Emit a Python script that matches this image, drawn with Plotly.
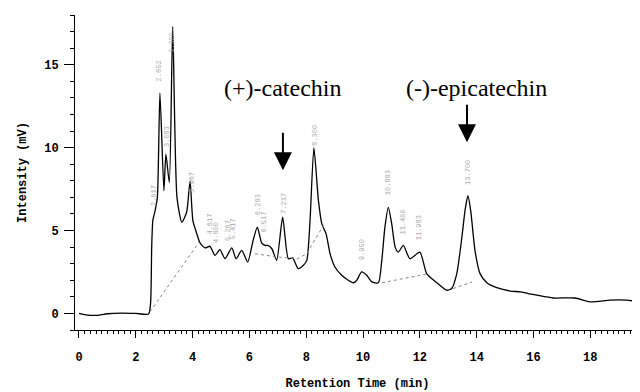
import numpy as np
import plotly.graph_objects as go

# ---- data ----
time_min = [0.00, 0.30, 0.60, 1.00, 1.50, 2.00, 2.45, 2.52, 2.56, 2.60, 2.68, 2.76, 2.85,
            2.99, 3.06, 3.18, 3.30, 3.45, 3.62, 3.79, 3.91, 4.01, 4.14, 4.26, 4.44, 4.61,
            4.79, 4.96, 5.14, 5.38, 5.53, 5.73, 5.94, 6.13, 6.28, 6.43, 6.55, 6.65, 6.79,
            6.96, 7.17, 7.37, 7.52, 7.72, 7.90, 8.02, 8.13, 8.27, 8.43, 8.55, 8.70, 8.84,
            9.01, 9.25, 9.48, 9.66, 9.78, 9.95, 10.13, 10.31, 10.54, 10.66, 10.77, 10.89,
            11.01, 11.13, 11.24, 11.42, 11.65, 12.00, 12.24, 12.60, 12.95, 13.12, 13.30,
            13.48, 13.59, 13.69, 13.79, 13.94, 14.12, 14.36, 14.71, 15.18, 15.53, 15.81,
            16.12, 16.69, 17.46, 17.99, 18.70, 19.28, 19.75]
intensity_mv = [0.00, -0.10, -0.12, -0.02, 0.02, 0.00, -0.03, 0.60, 4.00, 5.60, 6.20, 7.00, 13.30,
                7.40, 9.60, 7.90, 17.30, 7.00, 5.50, 6.10, 8.00, 5.60, 4.85, 4.25, 3.95, 4.05,
                3.50, 3.85, 3.30, 3.95, 3.30, 3.80, 3.10, 4.40, 5.20, 4.25, 4.10, 4.10, 3.90,
                3.20, 5.80, 3.30, 3.35, 2.70, 2.90, 3.20, 5.45, 10.00, 6.80, 5.40, 4.80, 3.60,
                2.80, 2.30, 2.00, 1.85, 2.00, 2.50, 2.30, 1.90, 1.85, 3.20, 5.20, 6.40,
                5.40, 4.00, 3.70, 4.10, 3.30, 3.70, 2.40, 1.85, 1.40, 1.50, 2.40,
                4.60, 6.20, 7.10, 6.20, 3.80, 2.40, 1.85, 1.55, 1.35, 1.30, 1.20,
                1.10, 0.93, 0.93, 0.70, 0.80, 0.80, 0.70]

# integration baselines (dotted)
base1_t = [2.50, 4.23]
base1_y = [0.10, 4.30]
base2_t = [6.20, 7.00, 7.70, 8.02, 8.60]
base2_y = [3.60, 3.40, 3.30, 3.60, 5.30]
base3_t = [10.67, 11.76, 12.30]
base3_y = [1.85, 2.20, 2.40]
base4_t = [13.17, 13.84]
base4_y = [1.50, 1.90]

peak_times = [2.62, 2.85, 3.08, 3.30, 3.97, 4.62, 4.80, 5.27, 5.42, 6.28, 6.52,
              7.21, 8.30, 9.95, 10.89, 11.40, 11.98, 13.70]
peak_labels = ["2.617", "2.852", "3.083", "3.300", "3.967", "4.617", "4.800", "5.267",
               "5.417", "6.283", "6.517", "7.217", "8.300", "9.950", "10.883", "11.400",
               "11.983", "13.700"]

compounds = ["(+)-catechin", "(-)-epicatechin"]
compound_times = [7.18, 13.66]

x_ticks = [0, 2, 4, 6, 8, 10, 12, 14, 16, 18]
y_ticks = [0, 5, 10, 15]

mono = "Liberation Mono, Courier New, monospace"
serif = "Liberation Serif, Times New Roman, serif"

fig = go.Figure()
fig.add_trace(go.Scatter(x=time_min, y=intensity_mv, mode="lines",
                         line=dict(color="black", width=1.3, shape="spline", smoothing=0.6),
                         hoverinfo="skip", showlegend=False))
for bt, by in [(base1_t, base1_y), (base2_t, base2_y), (base3_t, base3_y), (base4_t, base4_y)]:
    fig.add_trace(go.Scatter(x=bt, y=by, mode="lines",
                             line=dict(color="#888888", width=1, dash="dot"),
                             hoverinfo="skip", showlegend=False))

# peak retention-time labels (small, rotated, faint)
label_y = np.minimum(np.interp(peak_times, time_min, intensity_mv) + 0.6, 15.6)
for t, ly, lab in zip(peak_times, label_y, peak_labels):
    fig.add_annotation(x=t, y=float(ly), text=lab, textangle=-90, showarrow=False,
                       yanchor="bottom", xanchor="center",
                       font=dict(family=mono, size=7, color="#aaaaaa"))

# compound labels with arrows
arrow_tip_y = [8.64, 10.33]
for name, t, tip in zip(compounds, compound_times, arrow_tip_y):
    fig.add_annotation(x=t, y=tip, ax=0, ay=-39, text="", showarrow=True,
                       arrowhead=2, arrowsize=1.8, arrowwidth=2, arrowcolor="black")
    fig.add_annotation(x=t + (0.32 if name.startswith("(-)") else 0.0), y=13.58,
                       text=name, showarrow=False,
                       font=dict(family=serif, size=24, color="black"))

# the page body has an 8px default margin, so the figure is sized to fit the window
fig.update_layout(
    width=632, height=384,
    margin=dict(l=67, r=0, t=7, b=62),
    paper_bgcolor="white", plot_bgcolor="white",
    showlegend=False,
)
fig.update_xaxes(
    range=[-0.14, 19.75], tickvals=x_ticks, ticks="outside", ticklen=7, tickwidth=1,
    tickcolor="black", showline=True, linecolor="black", linewidth=1,
    showgrid=False, zeroline=False, automargin=False, ticklabelstandoff=9,
    minor=dict(dtick=0.2, tick0=0, ticks="outside", ticklen=3, tickcolor="black"),
    tickfont=dict(family=mono, size=12, color="black", weight="bold"),
    title=dict(text="Retention Time (min)", standoff=14,
               font=dict(family=mono, size=12, color="black", weight="bold")),
)
fig.update_yaxes(
    range=[-1.0, 18.0], tickvals=y_ticks, ticks="outside", ticklen=10, tickwidth=1,
    tickcolor="black", showline=True, linecolor="black", linewidth=1,
    showgrid=False, zeroline=False, automargin=False, ticklabelstandoff=3,
    minor=dict(dtick=1, tick0=0, ticks="outside", ticklen=4, tickcolor="black"),
    tickfont=dict(family=mono, size=12, color="black", weight="bold"),
    title=dict(text="Intensity (mV)", standoff=14,
               font=dict(family=mono, size=12, color="black", weight="bold")),
)

fig.write_html("out.html")
